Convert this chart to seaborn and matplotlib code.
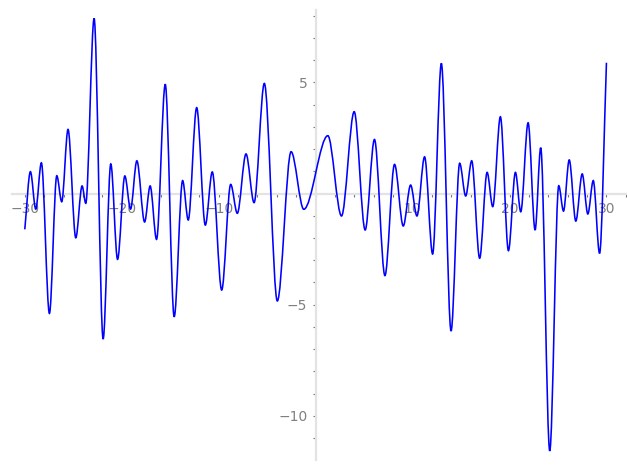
import numpy as np
import matplotlib.pyplot as plt
import seaborn as sns
from matplotlib.path import Path
from matplotlib.patches import PathPatch
from matplotlib.ticker import MultipleLocator, FixedLocator

# Extremos locais da curva, mais os pontos inicial e final
x_ext = [-30.0, -29.42, -28.87, -28.29, -27.46, -26.70, -26.19, -25.54, -24.74, -24.09,
         -23.71, -22.85, -21.92, -21.13, -20.43, -19.68, -19.09, -18.44, -17.64, -17.07,
         -16.41, -15.51, -14.59, -13.72, -13.14, -12.27, -11.38, -10.66, -9.69, -8.76,
         -8.08, -7.18, -6.35, -5.29, -3.95, -2.53, -1.22, 1.26, 2.67, 3.98,
         5.11, 6.07, 7.15, 8.14, 9.04, 9.80, 10.45, 11.24, 12.07, 12.97,
         13.97, 14.86, 15.48, 16.10, 16.92, 17.69, 18.27, 19.06, 19.89, 20.61,
         21.16, 21.92, 22.64, 23.22, 24.15, 25.08, 25.57, 26.16, 26.84, 27.50,
         28.08, 28.64, 29.29, 30.0]
y_ext = [-1.61, 0.98, -0.70, 1.38, -5.39, 0.80, -0.37, 2.88, -1.99, 0.34,
         -0.44, 7.87, -6.54, 1.33, -2.96, 0.79, -0.70, 1.47, -1.28, 0.34,
         -2.06, 4.91, -5.54, 0.58, -1.19, 3.86, -1.42, 0.97, -4.34, 0.41,
         -0.89, 1.78, -0.41, 4.95, -4.83, 1.88, -0.71, 2.60, -1.01, 3.68,
         -1.64, 2.43, -3.69, 1.31, -1.46, 0.38, -1.01, 1.65, -2.72, 5.85,
         -6.18, 1.36, -0.11, 1.47, -2.91, 0.95, -0.59, 3.45, -2.57, 0.95,
         -0.82, 3.18, -1.64, 2.06, -11.57, 0.35, -0.79, 1.51, -1.24, 0.88,
         -0.92, 0.58, -2.69, 5.88]

x_major = [-30, -20, -10, 10, 20, 30]
y_major = [-10, -5, 5]

sns.set_style("white")
plt.rcParams['font.family'] = ['DejaVu Sans']

fig = plt.figure(figsize=(6.27, 4.70), dpi=100)
ax = fig.add_axes([12 / 627, 10 / 470, 615 / 627, 450 / 470])

# Curva: segmentos de Bézier com tangente horizontal em cada extremo
verts = [(x_ext[0], y_ext[0])]
codes = [Path.MOVETO]
n = len(x_ext)
for i in range(n - 1):
    x0, y0 = x_ext[i], y_ext[i]
    x1, y1 = x_ext[i + 1], y_ext[i + 1]
    dx = x1 - x0
    c0y = y0 if i > 0 else y0 + (y1 - y0) / 3
    c1y = y1 if i + 1 < n - 1 else y1 - (y1 - y0) / 3
    verts += [(x0 + dx / 3, c0y), (x1 - dx / 3, c1y), (x1, y1)]
    codes += [Path.CURVE4] * 3
ax.add_patch(PathPatch(Path(verts, codes), facecolor='none', edgecolor='#0000ff',
                       lw=1.15, zorder=3))

ax.set_xlim(-31.32, 32.12)
ax.set_ylim(-11.98, 8.25)

# Eixos cruzando na origem
for s in ['top', 'right']:
    ax.spines[s].set_visible(False)
for s in ['left', 'bottom']:
    ax.spines[s].set_position(('data', 0))
    ax.spines[s].set_color('#e3e3e3')
    ax.spines[s].set_linewidth(1.6)
    ax.spines[s].set_zorder(1)

ax.xaxis.set_major_locator(FixedLocator(x_major))
ax.xaxis.set_minor_locator(MultipleLocator(2))
ax.yaxis.set_major_locator(FixedLocator(y_major))
ax.yaxis.set_minor_locator(MultipleLocator(1))
ax.tick_params(which='both', direction='out', length=2.5, width=0.8,
               color='#777777', labelcolor='#808080', labelsize=10, pad=3.5)
ax.tick_params(axis='x', which='both', bottom=True)
ax.tick_params(axis='y', which='both', left=True)

fig.savefig("out.png", dpi=100)
